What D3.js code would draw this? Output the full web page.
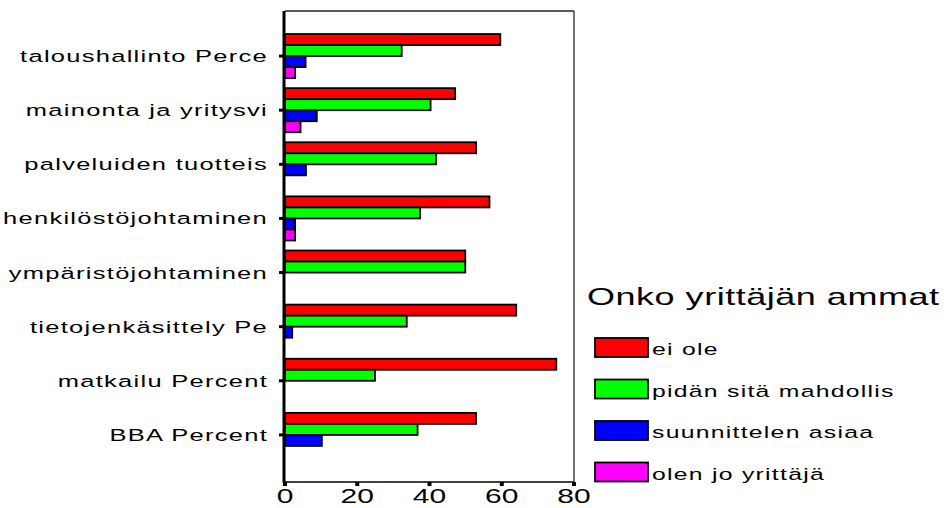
<!DOCTYPE html>
<html>
<head>
<meta charset="utf-8">
<script src="https://cdn.jsdelivr.net/npm/d3@7"></script>
<style>
  html, body { margin: 0; padding: 0; background: #fff; }
  svg { display: block; }
  text { font-family: "Liberation Sans", Arial, sans-serif; fill: #000; }
</style>
</head>
<body>
<svg id="chart" width="944" height="508"></svg>
<script>
// kategoriat ylhäältä alas
const categories = [
    "taloushallinto Perce", "mainonta ja yritysvi", "palveluiden tuotteis",
    "henkilöstöjohtaminen", "ympäristöjohtaminen", "tietojenkäsittely Pe",
    "matkailu Percent", "BBA Percent"
];
const seriesNames = ["ei ole", "pidän sitä mahdollis", "suunnittelen asiaa", "olen jo yrittäjä"];
const seriesColors = ["#ff0000", "#00ff00", "#0000ff", "#ff00ff"];

// prosentit, järjestys = categories
const eiOle       = [59.6, 47.1, 52.9, 56.6, 49.9, 64.0, 75.1, 52.9];
const pidan       = [32.3, 40.3, 41.8, 37.4, 49.9, 33.7, 24.9, 36.7];
const suunnittelen= [5.7, 8.8, 5.8, 2.8, 0, 2.0, 0, 10.2];
const olenJo      = [2.8, 4.3, 0, 2.8, 0, 0, 0, 0];
const xTicks = [0, 20, 40, 60, 80];
const legendTitle = "Onko yrittäjän ammat";

const seriesValues = [eiOle, pidan, suunnittelen, olenJo];

const svg = d3.select("#chart");
const plotLeft = 285, plotRight = 574, plotTop = 11, plotBottom = 482;
const SX = 1.5; // tekstin vaakavenytys

const x = d3.scaleLinear().domain([0, 80]).range([plotLeft, plotRight]);
const y0 = d3.scaleBand().domain(categories).range([plotTop - 1, plotBottom - 1])
    .paddingInner(0.185).paddingOuter(0.444);
const y1 = d3.scaleBand().domain(d3.range(seriesNames.length)).range([0, y0.bandwidth()]);

// kehys
svg.append("line").attr("x1", plotLeft).attr("x2", plotRight).attr("y1", plotTop).attr("y2", plotTop)
    .attr("stroke", "#222").attr("stroke-width", 1.5);
svg.append("line").attr("x1", plotRight).attr("x2", plotRight).attr("y1", plotTop).attr("y2", plotBottom)
    .attr("stroke", "#444").attr("stroke-width", 1.5);

// palkit
const rows = [];
categories.forEach((c, i) => {
    seriesValues.forEach((vals, s) => {
        if (vals[i] > 0) rows.push({ cat: c, s: s, v: vals[i] });
    });
});

svg.append("g").selectAll("rect")
    .data(rows)
    .enter()
    .append("rect")
    .attr("x", x(0))
    .attr("y", d => y0(d.cat) + y1(d.s))
    .attr("width", d => x(d.v) - x(0))
    .attr("height", y1.bandwidth())
    .attr("fill", d => seriesColors[d.s])
    .attr("stroke", "#000")
    .attr("stroke-width", 1.8);

// x-akseli
const xAxis = svg.append("g").attr("transform", `translate(0,${plotBottom})`);
xAxis.append("line").attr("x1", plotLeft).attr("x2", plotRight).attr("stroke", "#000").attr("stroke-width", 1.5);
xAxis.selectAll(".tick").data(xTicks).enter().append("line")
    .attr("x1", d => x(d)).attr("x2", d => x(d)).attr("y1", 0).attr("y2", 4)
    .attr("stroke", "#000").attr("stroke-width", 4);
xAxis.selectAll(".lbl").data(xTicks).enter().append("text")
    .attr("transform", d => `translate(${x(d)},21) scale(${SX},1)`)
    .attr("text-anchor", "middle")
    .style("font-size", "20px")
    .text(d => d);

// y-akseli
svg.append("line").attr("x1", plotLeft - 1).attr("x2", plotLeft - 1).attr("y1", plotTop).attr("y2", plotBottom + 1)
    .attr("stroke", "#000").attr("stroke-width", 3);
const yAxis = svg.append("g");
yAxis.selectAll("line").data(categories).enter().append("line")
    .attr("x1", plotLeft - 6).attr("x2", plotLeft)
    .attr("y1", d => y0(d) + y0.bandwidth() / 2).attr("y2", d => y0(d) + y0.bandwidth() / 2)
    .attr("stroke", "#000").attr("stroke-width", 3);
yAxis.selectAll("text").data(categories).enter().append("text")
    .attr("transform", d => `translate(${268},${y0(d) + y0.bandwidth() / 2 + 6}) scale(${SX},1)`)
    .attr("text-anchor", "end")
    .style("font-size", "17px")
    .style("letter-spacing", "0.85px")
    .text(d => d);

// selite
const legend = svg.append("g");
legend.append("text")
    .attr("transform", `translate(587,305) scale(${SX},1)`)
    .style("font-size", "24px")
    .style("letter-spacing", "0.35px")
    .text(legendTitle);

const item = legend.selectAll(".item").data(seriesNames).enter().append("g")
    .attr("transform", (d, i) => `translate(595,${338 + i * 41.5})`);
item.append("rect")
    .attr("width", 53).attr("height", 19)
    .attr("fill", (d, i) => seriesColors[i])
    .attr("stroke", "#000").attr("stroke-width", 1.8);
item.append("text")
    .attr("transform", `translate(57,17) scale(${SX},1)`)
    .style("font-size", "16.5px")
    .style("letter-spacing", "0.85px")
    .text(d => d);
</script>
</body>
</html>
